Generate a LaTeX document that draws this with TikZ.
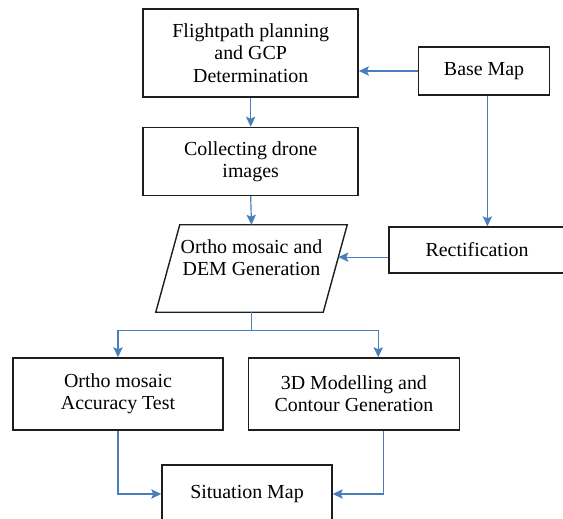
\documentclass[tikz,border=0pt]{standalone}
\usepackage{fontspec}
\setmainfont{Liberation Serif}
\usepackage{xcolor}
\usepackage{tikz}
\usetikzlibrary{arrows.meta,positioning,calc}
\definecolor{frame}{HTML}{1E1E1E}
\definecolor{linkblue}{HTML}{4A7EBB}
\tikzset{
  procbox/.style={
    rectangle, draw=frame, fill=white, line width=1.2pt,
    minimum width=6.45cm, minimum height=2.04cm,
    font=\fontsize{17}{19}\selectfont, align=center,
    inner sep=4pt
  },
  databox/.style={
    rectangle, minimum width=5.01cm, minimum height=2.61cm,
    font=\fontsize{17}{19}\selectfont, align=center,
    inner sep=2pt
  },
  slantline/.style={draw=frame, line width=1.2pt, line join=miter},
  flow/.style={
    -{Stealth[length=0.3cm, width=0.28cm, inset=0.06cm]}, line width=1pt, color=#1
  },
  flow/.default=linkblue,
}
\begin{document}
\begin{tikzpicture}
  \useasboundingbox (0,0) rectangle (16.89,-15.57);
  % Top row
  \node[procbox, minimum height=2.64cm] (plan) at (7.52,-1.59) {Flightpath planning\\and GCP\\Determination};
  \node[procbox, minimum width=3.93cm, minimum height=1.44cm, right=1.77cm of plan, yshift=-0.54cm] (base) {Base Map};
  \draw[flow] (base.west) -- (base.west -| plan.east);
  % Middle
  \node[procbox, below=0.87cm of plan] (collect) {Collecting drone\\images};
  \node[databox] (ortho) at (7.545,-8.055) {Ortho mosaic and\\DEM Generation\\\mbox{}};
  \draw[slantline] ([xshift=0.36cm]ortho.north west) -- ([xshift=0.36cm]ortho.north east)
    -- ([xshift=-0.36cm]ortho.south east) -- ([xshift=-0.36cm]ortho.south west) -- cycle;
  \coordinate (orthoin) at ($([xshift=0.36cm]ortho.north east)!0.37!([xshift=-0.36cm]ortho.south east)$);
  \node[procbox, minimum width=5.28cm, minimum height=1.38cm] (rect) at (14.31,-7.5) {Rectification};
  \draw[flow] (plan.south) -- (collect.north);
  \draw[flow] (collect.south) -- (ortho.north);
  \draw[flow] ([xshift=0.1cm]base.south) -- ([xshift=0.1cm]base.south |- rect.north);
  \draw[flow] (rect.west |- orthoin) -- (orthoin);
  % Bottom row
  \node[procbox, minimum width=6.30cm, minimum height=2.16cm] (acc) at (3.54,-11.82) {Ortho mosaic\\Accuracy Test};
  \node[procbox, minimum width=6.33cm, minimum height=2.16cm, right=0.72cm of acc] (model) {3D Modelling and\\Contour Generation};
  \node[procbox, minimum width=5.1cm, minimum height=1.74cm] (sit) at (7.41,-14.82) {Situation Map};
  \coordinate (split) at ($(ortho.south)+(0,-0.54)$);
  \draw[flow] (ortho.south) -- (split) -| (acc.north);
  \draw[flow] (split) -| ([xshift=0.73cm]model.north);
  \draw[flow] (acc.south) |- (sit.west);
  \draw[flow] ([xshift=0.9cm]model.south) |- (sit.east);
\end{tikzpicture}
\end{document}
